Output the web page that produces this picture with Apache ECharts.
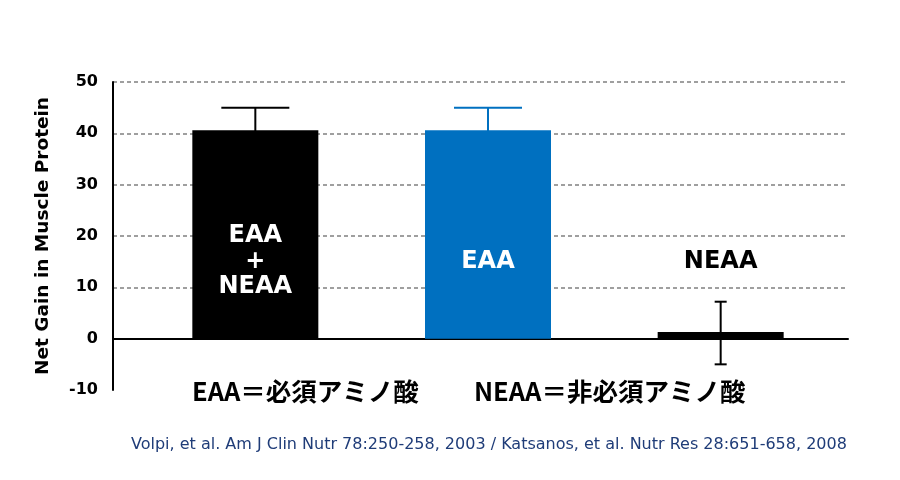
<!DOCTYPE html>
<html>
<head>
<meta charset="utf-8">
<script src="https://cdn.jsdelivr.net/npm/echarts@6/dist/echarts.min.js"></script>
<style>html,body{margin:0;padding:0;background:#fff}#c{width:900px;height:480px}</style>
</head>
<body>
<div id="c"></div>
<script>
// ---- data ----
var categories = ['EAA+NEAA', 'EAA', 'NEAA'];
var values = [40.6, 40.6, 1.3];
var errHigh = [45.0, 45.0, 7.2];
var errLow = [36.2, 36.2, -5.0];
var barLabels = ['EAA\n+\nNEAA', 'EAA', 'NEAA'];
var yTicks = [-10, 0, 10, 20, 30, 40, 50];
var notes = ['EAA＝必須アミノ酸', 'NEAA＝非必須アミノ酸'];
var yName = 'Net Gain in Muscle Protein';
var citation = 'Volpi, et al. Am J Clin Nutr 78:250-258, 2003 / Katsanos, et al. Nutr Res 28:651-658, 2008';

// ---- styles ----
var barColors = ['#000000', '#0070c0', '#000000'];
var labelColors = ['#ffffff', '#ffffff', '#000000'];
var capHalf = [34, 34, 6];
var LABEL_AT = 15;

var chart = echarts.init(document.getElementById('c'));
var yMin = yTicks[0], yMax = yTicks[yTicks.length - 1];

chart.setOption({
  animation: false,
  grid: [
    {left: 113, right: 52, top: 82, bottom: 90},
    {left: 139, right: 63, top: 82, bottom: 90}
  ],
  xAxis: [
    {gridIndex: 0, type: 'value', min: 0, max: 1, axisLabel: {show: false}, axisTick: {show: false}, splitLine: {show: false},
     axisLine: {show: true, onZero: true, lineStyle: {color: '#000', width: 2}}},
    {gridIndex: 1, type: 'category', data: categories, show: false}
  ],
  yAxis: [
    {gridIndex: 0, type: 'value', min: yMin, max: yMax, interval: 10,
     name: yName, nameLocation: 'middle', nameGap: 60, nameRotate: 90,
     nameTextStyle: {fontFamily: 'DejaVu Sans', fontWeight: 'bold', fontSize: 18.5, color: '#000'},
     axisLine: {show: true, lineStyle: {color: '#000', width: 2}},
     axisTick: {show: false},
     axisLabel: {fontFamily: 'DejaVu Sans', fontWeight: 'bold', fontSize: 16, color: '#000', margin: 15},
     splitLine: {show: true, showMinLine: false, lineStyle: {color: '#808080', type: [4, 3], width: 1.5}}},
    {gridIndex: 1, type: 'value', min: yMin, max: yMax, interval: 10, show: false, splitLine: {show: false}}
  ],
  series: [
    {type: 'bar', xAxisIndex: 1, yAxisIndex: 1, barWidth: 126, z: 3,
     data: values.map(function (v, i) { return {value: v, itemStyle: {color: barColors[i]}}; })},
    {type: 'custom', xAxisIndex: 1, yAxisIndex: 1, z: 4,
     data: categories.map(function (c, i) { return [i, errLow[i], errHigh[i]]; }),
     renderItem: function (params, api) {
       var i = api.value(0);
       var lo = api.coord([i, api.value(1)]);
       var hi = api.coord([i, api.value(2)]);
       var h = capHalf[i];
       var st = {stroke: barColors[i], lineWidth: 2};
       return {type: 'group', children: [
         {type: 'line', shape: {x1: lo[0], y1: lo[1], x2: hi[0], y2: hi[1]}, style: st},
         {type: 'line', shape: {x1: hi[0] - h, y1: hi[1], x2: hi[0] + h, y2: hi[1]}, style: st},
         {type: 'line', shape: {x1: lo[0] - h, y1: lo[1], x2: lo[0] + h, y2: lo[1]}, style: st}
       ]};
     }},
    {type: 'custom', xAxisIndex: 1, yAxisIndex: 1, z: 5,
     data: categories.map(function (c, i) { return [i, LABEL_AT]; }),
     renderItem: function (params, api) {
       var i = api.value(0);
       var p = api.coord([i, api.value(1)]);
       return {type: 'text', x: p[0], y: p[1], style: {text: barLabels[i], fill: labelColors[i],
         font: 'bold 24px "DejaVu Sans"', lineHeight: 25.5, align: 'center', verticalAlign: 'middle'}};
     }}
  ],
  graphic: [
    {type: 'text', left: 192, top: 379, style: {text: notes[0], font: 'bold 25.5px "Noto Sans CJK JP"', fill: '#000'}},
    {type: 'text', left: 474, top: 379, style: {text: notes[1], font: 'bold 25.5px "Noto Sans CJK JP"', fill: '#000'}},
    {type: 'text', left: 131, top: 437, style: {text: citation, font: '16px "DejaVu Sans"', fill: '#1f3c78'}}
  ]
});
</script>
</body>
</html>
